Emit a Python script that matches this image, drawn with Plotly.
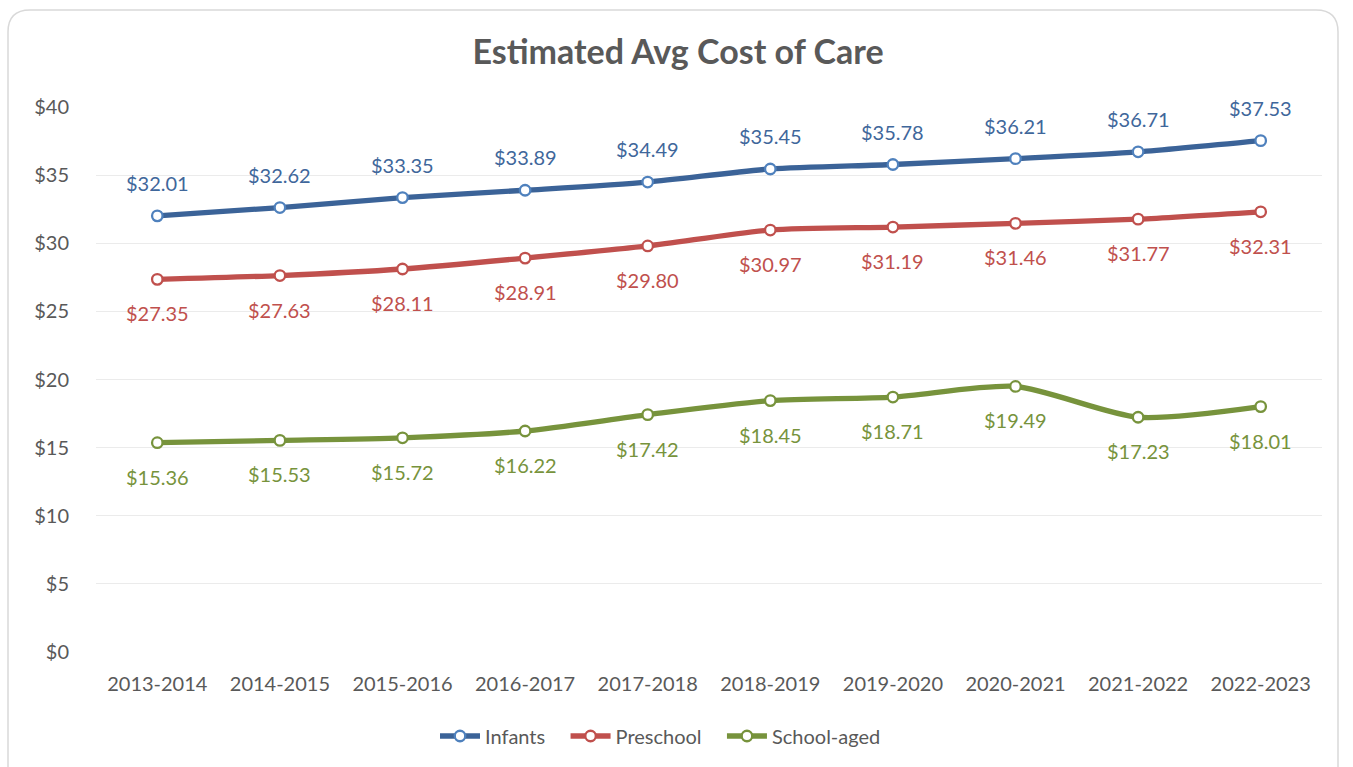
import plotly.graph_objects as go

years = ["2013-2014", "2014-2015", "2015-2016", "2016-2017", "2017-2018",
         "2018-2019", "2019-2020", "2020-2021", "2021-2022", "2022-2023"]
infants = [32.01, 32.62, 33.35, 33.89, 34.49, 35.45, 35.78, 36.21, 36.71, 37.53]
preschool = [27.35, 27.63, 28.11, 28.91, 29.80, 30.97, 31.19, 31.46, 31.77, 32.31]
school_aged = [15.36, 15.53, 15.72, 16.22, 17.42, 18.45, 18.71, 19.49, 17.23, 18.01]

series = [
    ("Infants", infants, "#3b6398", "#4f81bd", "#3f679b", 33),
    ("Preschool", preschool, "#c0504d", "#c0504d", "#c0504d", -34),
    ("School-aged", school_aged, "#77933c", "#77933c", "#77933c", -34),
]

FONT = "Lato"
NBSP = "\u00a0"
fig = go.Figure()
annotations = []
for name, vals, lc, mc, tc, shift in series:
    fig.add_trace(go.Scatter(
        x=years, y=vals, name=name + NBSP * 3, mode="lines+markers",
        line=dict(color=lc, width=5.3, shape="spline", smoothing=0.7),
        marker=dict(size=10.5, color="white", line=dict(color=mc, width=2.3)),
    ))
    for x, v in zip(years, vals):
        annotations.append(dict(
            x=x, y=v, xref="x", yref="y", text=f"${v:.2f}", showarrow=False,
            yshift=shift, font=dict(family=FONT, size=20, color=tc),
        ))

# rounded chart border (paper coords)
L, R, T, B = 96, 1322, 107, 652
W, H = R - L, B - T
def px(x): return (x - L) / W
def py(y): return (B - y) / H
x0, x1, y0, y1, r = 8, 1338, 10, 800, 22
path = (f"M {px(x0+r)},{py(y0)} L {px(x1-r)},{py(y0)} Q {px(x1)},{py(y0)} {px(x1)},{py(y0+r)} "
        f"L {px(x1)},{py(y1-r)} Q {px(x1)},{py(y1)} {px(x1-r)},{py(y1)} "
        f"L {px(x0+r)},{py(y1)} Q {px(x0)},{py(y1)} {px(x0)},{py(y1-r)} "
        f"L {px(x0)},{py(y0+r)} Q {px(x0)},{py(y0)} {px(x0+r)},{py(y0)} Z")

fig.update_layout(
    width=1353, height=767,
    margin=dict(l=L, r=1353 - R, t=T, b=767 - B, autoexpand=False),
    paper_bgcolor="white", plot_bgcolor="white",
    title=dict(text="<b>Estimated Avg Cost of Care</b>", x=678 / 1353, xanchor="center",
               y=1 - 52 / 767, yanchor="middle",
               font=dict(family=FONT, size=34, color="#595959")),
    xaxis=dict(range=[-0.5, len(years) - 0.5], showgrid=False, showline=False, ticks="",
               ticklabelstandoff=18,
               tickfont=dict(family=FONT, size=20, color="#595959")),
    yaxis=dict(range=[0, 40], dtick=5, tickprefix="$", showline=False, ticks="",
               ticklabelstandoff=26,
               gridcolor="#ebebeb", gridwidth=1, zeroline=False,
               tickfont=dict(family=FONT, size=20, color="#595959")),
    legend=dict(orientation="h", x=px(668), xanchor="center", y=py(736), yanchor="middle",
                font=dict(family=FONT, size=20, color="#595959"),
                itemwidth=40, tracegroupgap=0),
    annotations=annotations,
    shapes=[dict(type="path", path=path, xref="paper", yref="paper",
                 line=dict(color="#d9d9d9", width=1.5), layer="below")],
    showlegend=True,
)

fig.write_html("out.html", config={"displayModeBar": False},
               post_script="document.body.style.margin='0';document.body.style.overflow='hidden';")
